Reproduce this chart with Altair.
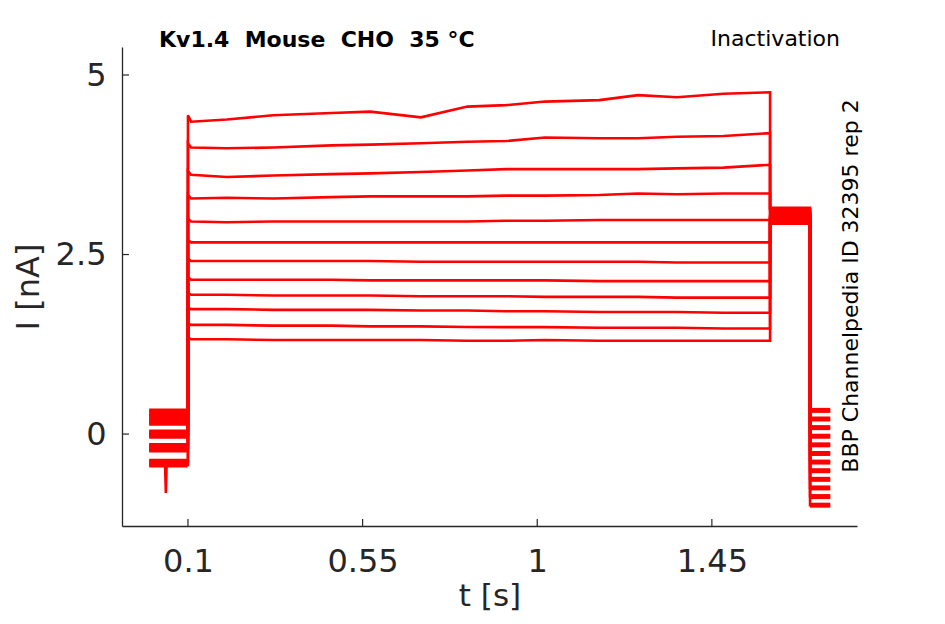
import altair as alt
import pandas as pd

# ---------------- data ----------------
N_TRACES = 12
BASE_T = [0.0, 0.099]                      # holding segment before the step
BASE_LEVEL = [0.32, 0.26, 0.20, 0.15, 0.03, 0.0, -0.03, -0.16, -0.19, -0.22, -0.38, -0.43]
SPIKE_TRACE = 11
SPIKE_T = [0.041, 0.043, 0.045]
SPIKE_I = [-0.43, -0.82, -0.43]

STEP_T = 0.1
STEP_PEAK = [4.44, 4.05, 3.66, 3.33, 3.00, 2.70, 2.44, 2.18, 1.96, 1.76, 1.54, 1.34]

MAIN_T = [0.108, 0.2, 0.32, 0.47, 0.57, 0.70, 0.82, 0.92, 1.02, 1.16, 1.26, 1.36, 1.48, 1.6]
MAIN_I = [
    [4.35, 4.38, 4.44, 4.47, 4.49, 4.41, 4.56, 4.58, 4.63, 4.65, 4.72, 4.69, 4.74, 4.76],
    [3.99, 3.98, 3.99, 4.02, 4.03, 4.05, 4.07, 4.08, 4.13, 4.12, 4.12, 4.14, 4.15, 4.19],
    [3.61, 3.58, 3.60, 3.62, 3.63, 3.65, 3.67, 3.69, 3.69, 3.69, 3.69, 3.70, 3.71, 3.75],
    [3.28, 3.29, 3.28, 3.30, 3.31, 3.31, 3.31, 3.32, 3.32, 3.33, 3.35, 3.34, 3.35, 3.35],
    [2.96, 2.95, 2.96, 2.96, 2.96, 2.96, 2.96, 2.97, 2.97, 2.98, 2.98, 2.98, 2.98, 2.98],
    [2.67, 2.67, 2.67, 2.67, 2.67, 2.67, 2.67, 2.67, 2.67, 2.67, 2.67, 2.67, 2.67, 2.67],
    [2.41, 2.41, 2.41, 2.41, 2.41, 2.40, 2.40, 2.40, 2.40, 2.40, 2.40, 2.39, 2.39, 2.39],
    [2.15, 2.15, 2.15, 2.15, 2.14, 2.14, 2.14, 2.14, 2.14, 2.13, 2.13, 2.13, 2.13, 2.13],
    [1.94, 1.94, 1.93, 1.93, 1.93, 1.92, 1.92, 1.92, 1.91, 1.91, 1.91, 1.90, 1.90, 1.90],
    [1.74, 1.74, 1.73, 1.73, 1.73, 1.72, 1.72, 1.71, 1.71, 1.70, 1.70, 1.70, 1.69, 1.69],
    [1.52, 1.52, 1.51, 1.51, 1.50, 1.50, 1.49, 1.49, 1.49, 1.48, 1.48, 1.48, 1.47, 1.47],
    [1.32, 1.32, 1.31, 1.31, 1.31, 1.31, 1.30, 1.30, 1.31, 1.30, 1.30, 1.30, 1.30, 1.30],
]

TAIL_T = [1.6, 1.703]
TAIL_LEVEL = [3.15, 3.13, 3.11, 3.09, 3.07, 3.05, 3.03, 3.01, 2.99, 2.97, 2.95, 2.93]

END_T = [1.703, 1.755]
END_LEVEL = [0.33, 0.21, 0.09, -0.03, -0.15, -0.27, -0.39, -0.51, -0.63, -0.75, -0.87, -0.99]

X_TICKS = [0.1, 0.55, 1, 1.45]
Y_TICKS = [0, 2.5, 5]
X_DOMAIN = [-0.07, 1.824]
Y_DOMAIN = [-1.28, 5.39]

TITLE_LEFT = "Kv1.4\u00a0\u00a0Mouse\u00a0\u00a0CHO\u00a0\u00a035\u00a0°C"
TITLE_RIGHT = "Inactivation"
SIDE_TEXT = "BBP Channelpedia ID 32395 rep 2"
X_TITLE = "t [s]"
Y_TITLE = "I [nA]"

# ---------------- build tables ----------------
rows = []
band_rows = []
for i in range(N_TRACES):
    seq = []
    base_pts = [(BASE_T[0], BASE_LEVEL[i])]
    if i == SPIKE_TRACE:
        base_pts += list(zip(SPIKE_T, SPIKE_I))
    base_pts += [(BASE_T[1], BASE_LEVEL[i])]
    seq += base_pts
    seq += [(STEP_T, BASE_LEVEL[i]), (STEP_T, STEP_PEAK[i])]
    seq += list(zip(MAIN_T, MAIN_I[i]))
    seq += [(TAIL_T[0], TAIL_LEVEL[i]), (TAIL_T[1], TAIL_LEVEL[i])]
    seq += [(END_T[0], END_LEVEL[i]), (END_T[1], END_LEVEL[i])]
    for k, (t, v) in enumerate(seq):
        rows.append({"t": t, "I": v, "trace": i, "k": k})
    for k, t in enumerate(BASE_T):
        band_rows.append({"t": t, "I": BASE_LEVEL[i], "grp": f"{i}-b", "k": k})
    for k, t in enumerate(END_T):
        band_rows.append({"t": t, "I": END_LEVEL[i], "grp": f"{i}-e", "k": k})

df = pd.DataFrame(rows)
df_band = pd.DataFrame(band_rows)

FONT = "DejaVu Sans"
AX = "#262626"
RED = "#ff0000"

xscale = alt.Scale(domain=X_DOMAIN, nice=False, zero=False)
yscale = alt.Scale(domain=Y_DOMAIN, nice=False, zero=False)

xaxis = alt.Axis(values=X_TICKS, labelExpr="'' + datum.value", ticks=False, tickSize=0, grid=False,
                 labelFont=FONT, labelFontSize=32, labelColor=AX,
                 labelBaseline="alphabetic", labelPadding=45,
                 domainColor=AX, domainWidth=1.3,
                 title=X_TITLE, titleFont=FONT, titleFontSize=31,
                 titleFontWeight="normal", titleColor=AX,
                 titleBaseline="alphabetic", titleY=79)
yaxis = alt.Axis(values=Y_TICKS, labelExpr="'' + datum.value", ticks=False, tickSize=0, grid=False,
                 labelFont=FONT, labelFontSize=32, labelColor=AX,
                 labelPadding=16,
                 domainColor=AX, domainWidth=1.3,
                 title=Y_TITLE, titleFont=FONT, titleFontSize=32,
                 titleFontWeight="normal", titleColor=AX,
                 titleBaseline="alphabetic", titleX=-84)

X_ENC = alt.X("t:Q", scale=xscale, axis=xaxis)
Y_ENC = alt.Y("I:Q", scale=yscale, axis=yaxis)

lines = alt.Chart(df).mark_line(color=RED, strokeWidth=2.6, clip=True).encode(
    x=X_ENC, y=Y_ENC, detail="trace:N", order="k:Q")

bands = alt.Chart(df_band).mark_line(color=RED, strokeWidth=5, clip=True).encode(
    x=X_ENC, y=Y_ENC, detail="grp:N", order="k:Q")

xt = alt.Chart(pd.DataFrame({"t": X_TICKS})).mark_rule(color=AX, strokeWidth=1.2).encode(
    x=X_ENC, y=alt.value(479), y2=alt.value(472))
yt = alt.Chart(pd.DataFrame({"I": Y_TICKS})).mark_rule(color=AX, strokeWidth=1.2).encode(
    y=Y_ENC, x=alt.value(0), x2=alt.value(7))

txt_df = pd.DataFrame({"a": [0]})
t_left = alt.Chart(txt_df).mark_text(font=FONT, fontSize=22, fontWeight="bold", color="black",
                                     align="left", baseline="alphabetic").encode(
    x=alt.value(37), y=alt.value(0), text=alt.value(TITLE_LEFT))
t_right = alt.Chart(txt_df).mark_text(font=FONT, fontSize=22, color="black",
                                      align="right", baseline="alphabetic").encode(
    x=alt.value(718), y=alt.value(-1), text=alt.value(TITLE_RIGHT))
t_side = alt.Chart(txt_df).mark_text(font=FONT, fontSize=22, color="black", angle=270,
                                     align="center", baseline="alphabetic").encode(
    x=alt.value(736), y=alt.value(239), text=alt.value(SIDE_TEXT))

chart = alt.layer(lines, bands, xt, yt, t_left, t_right, t_side).properties(
    width=735, height=479,
    background="white",
    autosize=alt.AutoSizeParams(type="none"),
    padding={"left": 114, "top": 39, "right": 80, "bottom": 85},
).configure_view(stroke=None)

chart.save("out.html", embed_options={"renderer": "svg", "actions": False})
